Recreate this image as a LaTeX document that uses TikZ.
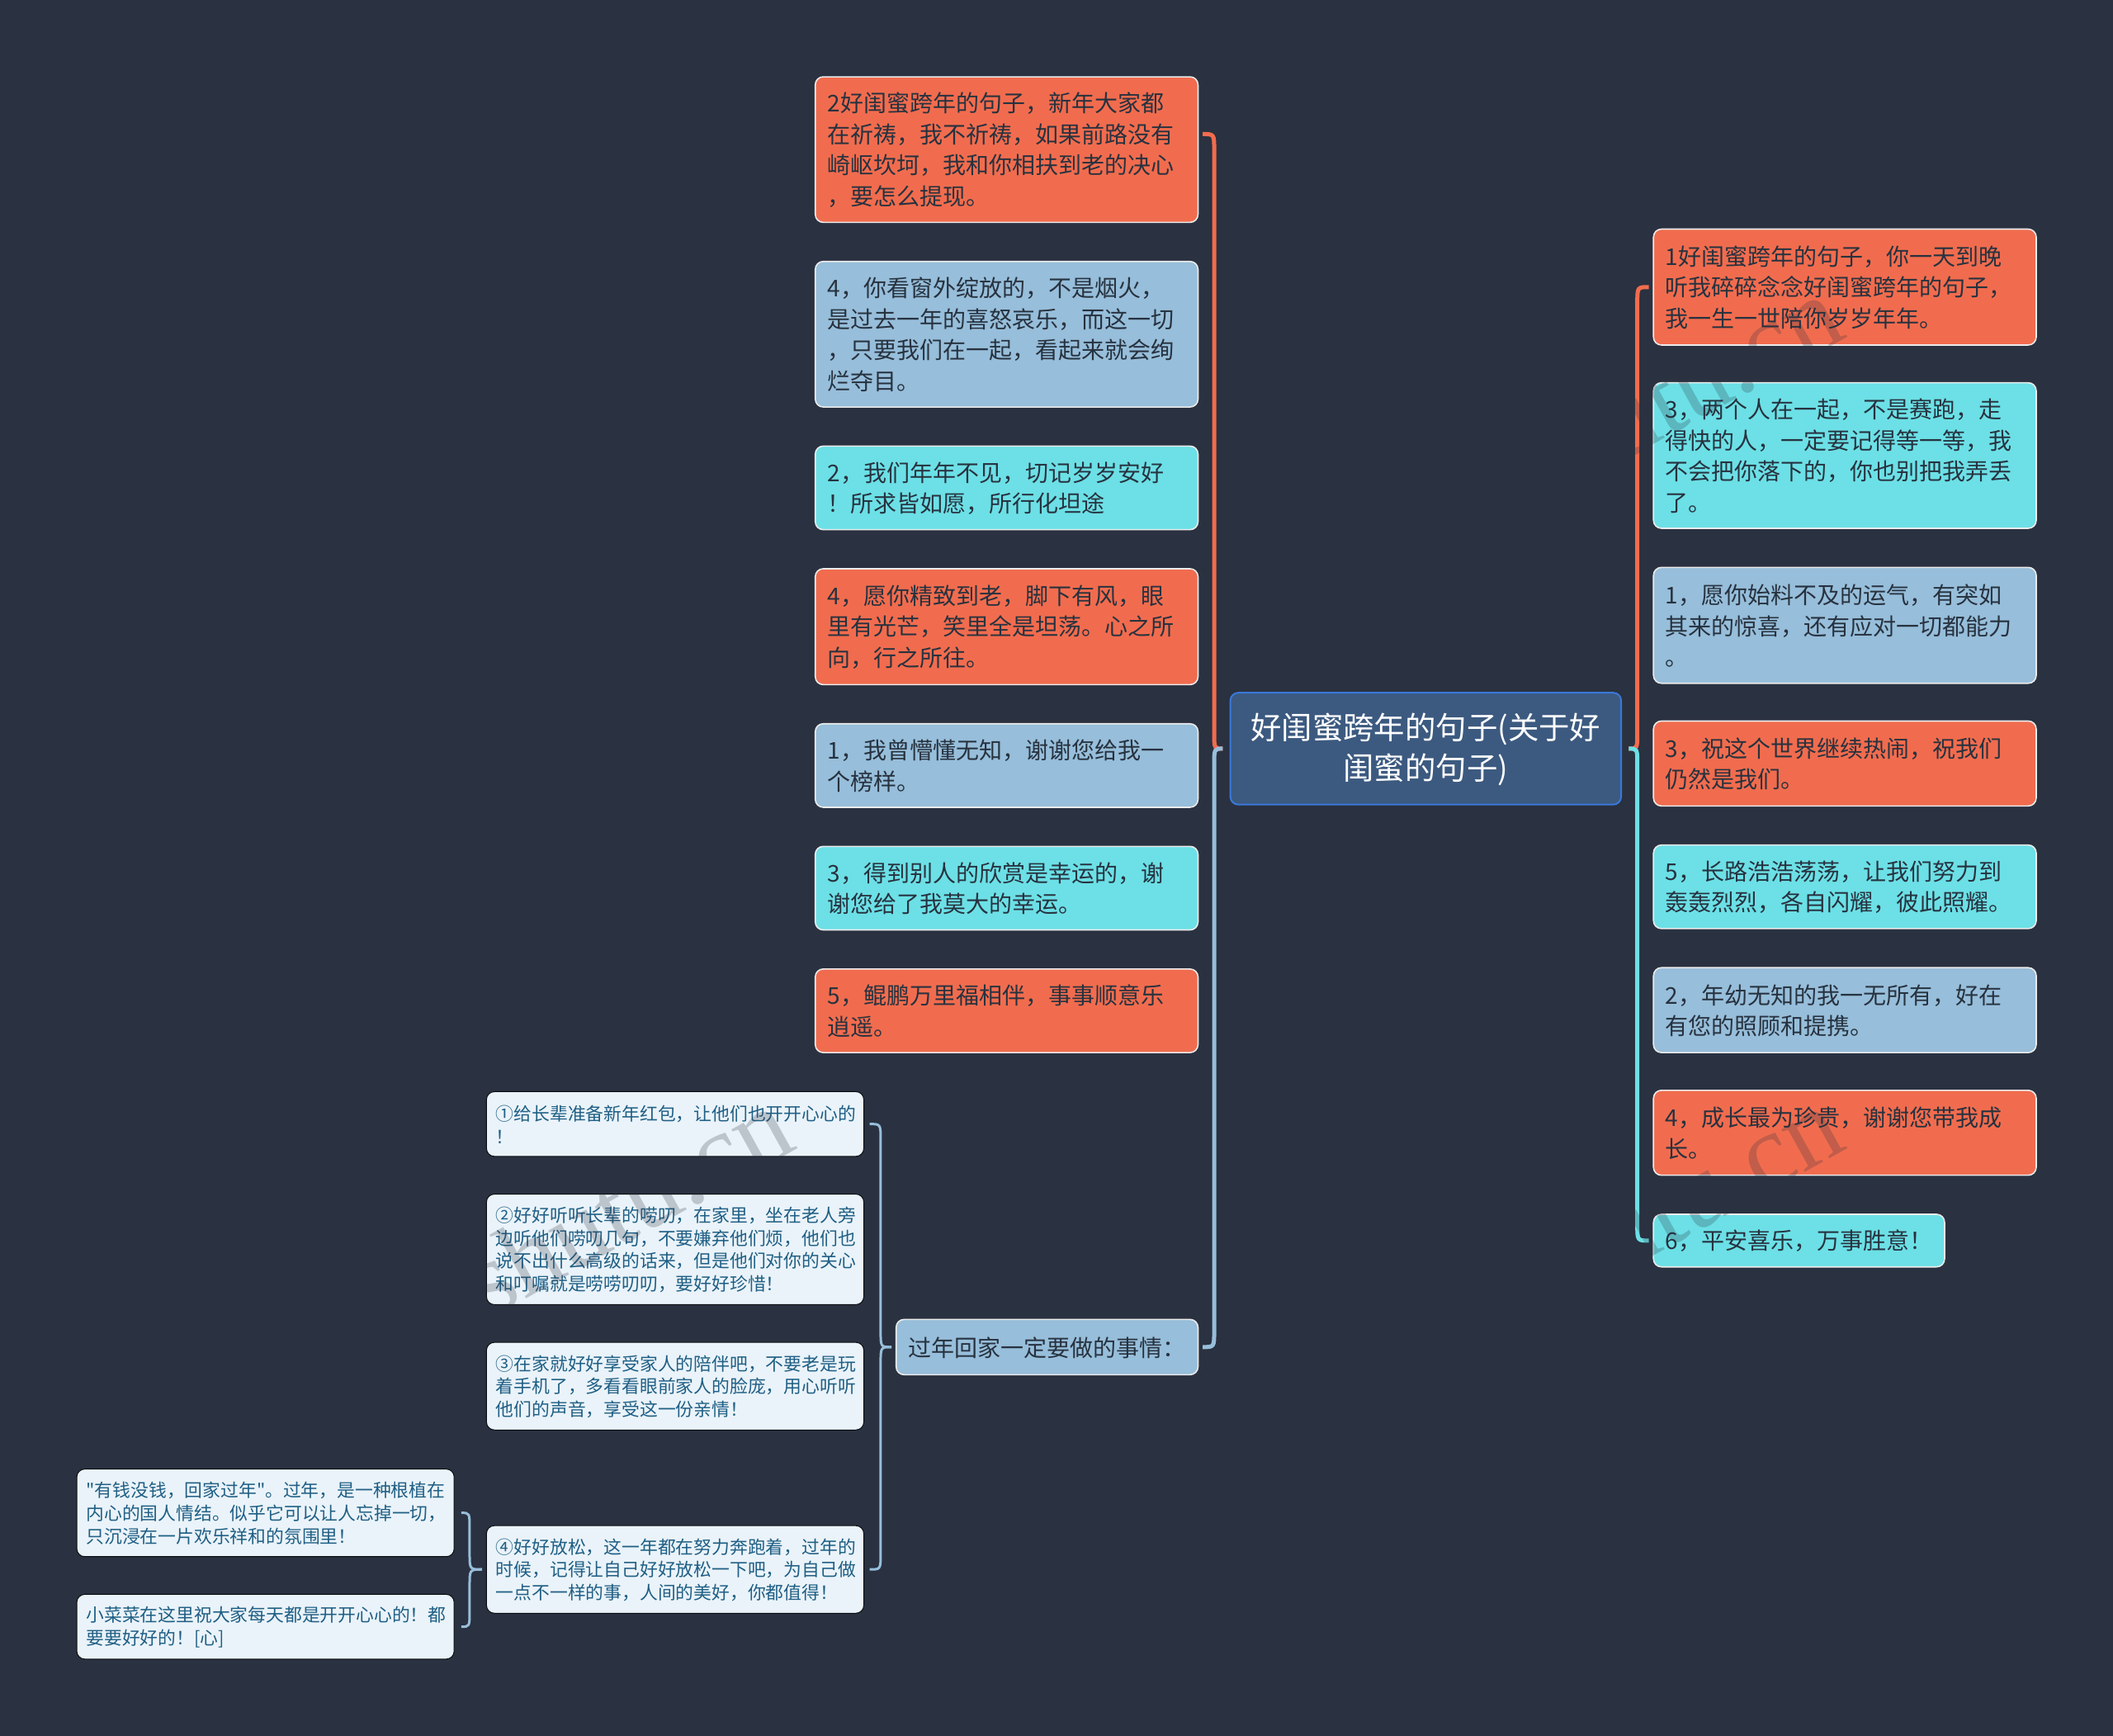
\documentclass[tikz,border=0pt]{standalone}
\usepackage{fontspec}
\usetikzlibrary{calc}
\newfontfamily\cjk{Noto Sans CJK SC}
\newfontfamily\wmfont{Liberation Serif}
\definecolor{bgc}{HTML}{2A3140}
\definecolor{oran}{HTML}{F16C4E}
\definecolor{blu}{HTML}{97BEDA}
\definecolor{cya}{HTML}{6CE0E6}
\definecolor{topf}{HTML}{3C5A80}
\definecolor{topb}{HTML}{3A78D8}
\definecolor{pale}{HTML}{EAF3F9}
\definecolor{txtd}{HTML}{27323F}
\definecolor{txts}{HTML}{1F5F85}
\def\uu{0.81633pt}
\tikzset{
  every node/.style={font=\cjk},
  base/.style={rounded corners=4.8pt,inner sep=0pt,align=left,anchor=center},
  mainbox/.style={base,draw=white!92!black,line width=0.8pt,text=txtd,
    font=\cjk\fontsize{14}{18.78}\selectfont},
  orbox/.style={mainbox,fill=oran},
  blbox/.style={mainbox,fill=blu},
  cybox/.style={mainbox,fill=cya},
  subbox/.style={base,fill=pale,draw=black!75!bgc,line width=0.5pt,text=txts,
    text width=266*\uu,font=\cjk\fontsize{10.9}{13.88}\selectfont},
  topbox/.style={base,fill=topf,draw=topb,line width=1pt,text=white,align=center,
    text width=272*\uu,font=\cjk\fontsize{18.7}{24.5}\selectfont},
  conn/.style={line width=2.5pt,line cap=butt},
  consub/.style={line width=1.5pt,line cap=butt,draw=blu},
  wmark/.style={font=\wmfont\fontsize{64}{64}\selectfont,text=bgc,opacity=0.24,rotate=29,inner sep=0pt}
}
% name, x0, y0, x1, y1, style, text
\newcommand{\bx}[7]{%
  \pgfmathsetlengthmacro{\bw}{(#4-#2)*\uu}%
  \pgfmathsetlengthmacro{\bh}{(#5-#3)*\uu}%
  \pgfmathsetlengthmacro{\tw}{(#4-#2-18)*\uu}%
  \node[text width=\tw,#6,minimum width=\bw,minimum height=\bh] (#1) at ({(#2+#4)/2},{(#3+#5)/2}) {#7\par\kern-0.5pt};}
% from, to, spine coordinate, sign (1 = downwards), style
\newcommand{\brk}[5]{%
  \draw[#5] (#1) .. controls (#3|-#1) .. ($(#3|-#1)+(0,#4*12)$)
    -- ($(#3|-#2)-(0,#4*12)$) .. controls (#3|-#2) .. (#2);}
\begin{document}
\begin{tikzpicture}[x=\uu,y=-\uu]
\fill[bgc] (0,0) rectangle (1568,1288);
\useasboundingbox (0,0) rectangle (1568,1288);
\bx{topic}{913}{514}{1203}{597}{topbox}{好闺蜜跨年的句子(关于好\\闺蜜的句子)}
% left column
\bx{la}{605}{57}{889}{165}{orbox}{2好闺蜜跨年的句子，新年大家都\\在祈祷，我不祈祷，如果前路没有\\崎岖坎坷，我和你相扶到老的决心\\，要怎么提现。}
\bx{lb}{605}{194}{889}{302}{blbox}{4，你看窗外绽放的，不是烟火，\\是过去一年的喜怒哀乐，而这一切\\，只要我们在一起，看起来就会绚\\烂夺目。}
\bx{lc}{605}{331}{889}{393}{cybox}{2，我们年年不见，切记岁岁安好\\！所求皆如愿，所行化坦途}
\bx{ld}{605}{422}{889}{508}{orbox}{4，愿你精致到老，脚下有风，眼\\里有光芒，笑里全是坦荡。心之所\\向，行之所往。}
\bx{le}{605}{537}{889}{599}{blbox}{1，我曾懵懂无知，谢谢您给我一\\个榜样。}
\bx{lf}{605}{628}{889}{690}{cybox}{3，得到别人的欣赏是幸运的，谢\\谢您给了我莫大的幸运。}
\bx{lg}{605}{719}{889}{781}{orbox}{5，鲲鹏万里福相伴，事事顺意乐\\逍遥。}
\bx{home}{665}{979}{889}{1020}{blbox}{过年回家一定要做的事情：}
% right column
\bx{ra}{1227}{170}{1511}{256}{orbox}{1好闺蜜跨年的句子，你一天到晚\\听我碎碎念念好闺蜜跨年的句子，\\我一生一世陪你岁岁年年。}
\bx{rb}{1227}{284}{1511}{392}{cybox}{3，两个人在一起，不是赛跑，走\\得快的人，一定要记得等一等，我\\不会把你落下的，你也别把我弄丢\\了。}
\bx{rc}{1227}{421}{1511}{507}{blbox}{1，愿你始料不及的运气，有突如\\其来的惊喜，还有应对一切都能力\\。}
\bx{rd}{1227}{535}{1511}{598}{orbox}{3，祝这个世界继续热闹，祝我们\\仍然是我们。}
\bx{re}{1227}{627}{1511}{689}{cybox}{5，长路浩浩荡荡，让我们努力到\\轰轰烈烈，各自闪耀，彼此照耀。}
\bx{rf}{1227}{718}{1511}{781}{blbox}{2，年幼无知的我一无所有，好在\\有您的照顾和提携。}
\bx{rg}{1227}{809}{1511}{872}{orbox}{4，成长最为珍贵，谢谢您带我成\\长。}
\bx{rh}{1227}{901}{1443}{940}{cybox}{6，平安喜乐，万事胜意！}
% sub items
\bx{sa}{361}{810}{641}{858}{subbox}{①给长辈准备新年红包，让他们也开开心心的\\！}
\bx{sb}{361}{886}{641}{968}{subbox}{②好好听听长辈的唠叨，在家里，坐在老人旁\\边听他们唠叨几句，不要嫌弃他们烦，他们也\\说不出什么高级的话来，但是他们对你的关心\\和叮嘱就是唠唠叨叨，要好好珍惜！}
\bx{sc}{361}{996}{641}{1061}{subbox}{③在家就好好享受家人的陪伴吧，不要老是玩\\着手机了，多看看眼前家人的脸庞，用心听听\\他们的声音，享受这一份亲情！}
\bx{sd}{361}{1132}{641}{1197}{subbox}{④好好放松，这一年都在努力奔跑着，过年的\\时候，记得让自己好好放松一下吧，为自己做\\一点不一样的事，人间的美好，你都值得！}
\bx{fa}{57}{1090}{337}{1155}{subbox}{"有钱没钱，回家过年"。过年，是一种根植在\\内心的国人情结。似乎它可以让人忘掉一切，\\只沉浸在一片欢乐祥和的氛围里！}
\bx{fb}{57}{1183}{337}{1231}{subbox}{小菜菜在这里祝大家每天都是开开心心的！都\\要要好好的！[心]}
% connector anchors
\coordinate (spl) at (901,0);
\coordinate (spr) at (1215,0);
\coordinate (sps) at (653.5,0);
\coordinate (spf) at (348.5,0);
\coordinate (tl) at ([xshift=-5*\uu]topic.west);
\coordinate (tr) at ([xshift=5*\uu]topic.east);
\coordinate (ela) at ([xshift=3*\uu,yshift=11.5*\uu]la.east);
\coordinate (ehome) at ([xshift=3*\uu]home.east);
\coordinate (era) at ([xshift=-3*\uu]ra.west);
\coordinate (erh) at ([xshift=-3*\uu]rh.west);
\coordinate (thome) at ([xshift=-3*\uu]home.west);
\coordinate (esa) at ([xshift=4*\uu]sa.east);
\coordinate (esd) at ([xshift=4*\uu]sd.east);
\coordinate (tsd) at ([xshift=-3*\uu]sd.west);
\coordinate (efa) at ([xshift=5*\uu]fa.east);
\coordinate (efb) at ([xshift=5*\uu]fb.east);
% connectors
\brk{tl}{ela}{spl}{-1}{conn,draw=oran}
\brk{tl}{ehome}{spl}{1}{conn,draw=blu}
\brk{tr}{era}{spr}{-1}{conn,draw=oran}
\brk{tr}{erh}{spr}{1}{conn,draw=cya}
\brk{thome}{esa}{sps}{-1}{consub}
\brk{thome}{esd}{sps}{1}{consub}
\brk{tsd}{efa}{spf}{-1}{consub}
\brk{tsd}{efb}{spf}{1}{consub}
% watermark
\node[wmark] (wa) at (465,892) {shutu.cn};
\node[wmark] (wb) at (1244,892) {shutu.cn};
\node[wmark] (wc) at (1244,290) {shutu.cn};
\end{tikzpicture}
\end{document}
